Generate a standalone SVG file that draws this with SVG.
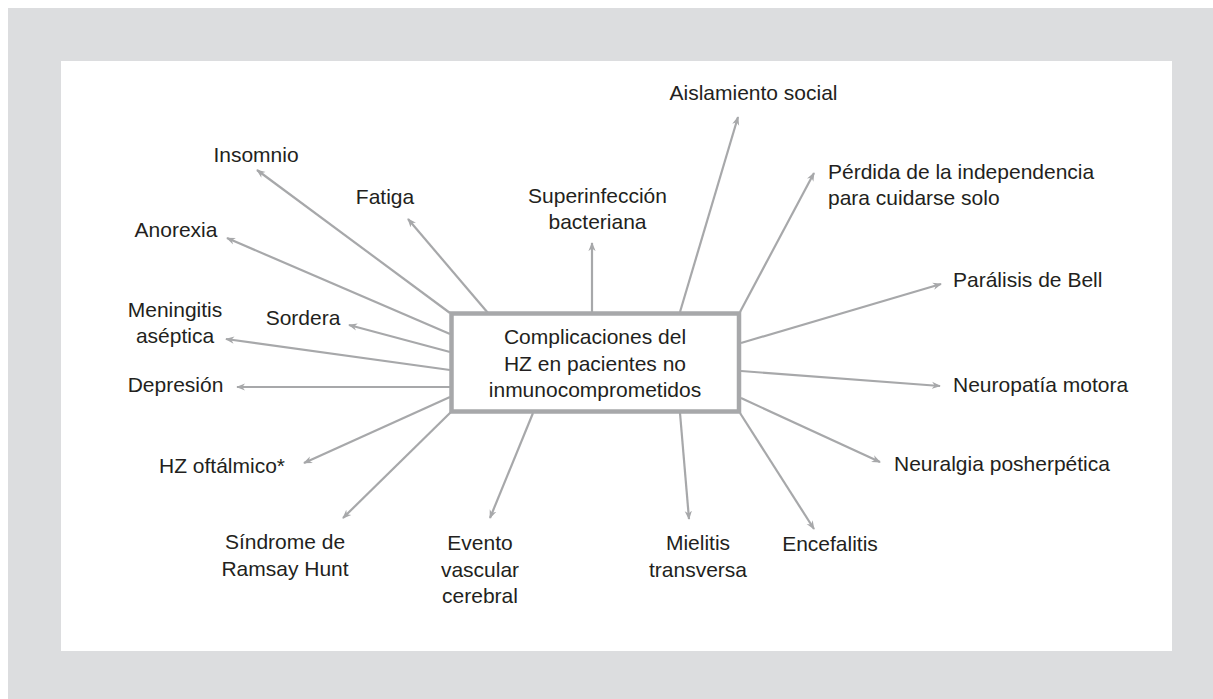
<svg xmlns="http://www.w3.org/2000/svg" width="1213" height="699" viewBox="0 0 1213 699">
<style>
.t{font-family:"Liberation Sans",Arial,Helvetica,sans-serif;font-size:21px;fill:#231f20}
.m{text-anchor:middle}
.c{stroke:#a7a8aa;stroke-width:2.2;fill:none;marker-end:url(#ah)}
</style>
<defs>
<marker id="ah" viewBox="0 0 10 10" refX="9" refY="5" markerWidth="9" markerHeight="9" markerUnits="userSpaceOnUse" orient="auto">
<path d="M0,1 L10,5 L0,9 L3,5 z" fill="#a7a8aa"/>
</marker>
</defs>
<rect x="0" y="0" width="1213" height="699" fill="#ffffff"/>
<rect x="8" y="8" width="1205" height="691" fill="#dcdddf"/>
<rect x="61" y="61" width="1111" height="590" fill="#ffffff"/>
<g id="connectors">
<line class="c" x1="450" y1="313" x2="257" y2="170"/>
<line class="c" x1="488" y1="313" x2="408" y2="219"/>
<line class="c" x1="450" y1="334" x2="227" y2="238"/>
<line class="c" x1="450" y1="352" x2="349" y2="325"/>
<line class="c" x1="450" y1="370" x2="226" y2="339"/>
<line class="c" x1="450" y1="387" x2="237" y2="387"/>
<line class="c" x1="450" y1="397" x2="304" y2="463"/>
<line class="c" x1="451" y1="412" x2="343" y2="518"/>
<line class="c" x1="533" y1="413" x2="490" y2="518"/>
<line class="c" x1="680" y1="413" x2="689" y2="519"/>
<line class="c" x1="740" y1="413" x2="814" y2="529"/>
<line class="c" x1="741" y1="398" x2="880" y2="462"/>
<line class="c" x1="741" y1="371" x2="940" y2="386"/>
<line class="c" x1="741" y1="343" x2="941" y2="284"/>
<line class="c" x1="740" y1="312" x2="814" y2="173"/>
<line class="c" x1="680" y1="312" x2="738" y2="117"/>
<line class="c" x1="592" y1="312" x2="592" y2="243"/>
</g>
<g id="center">
<rect x="451.5" y="313.5" width="287.5" height="98" fill="#ffffff" stroke="#a7a8aa" stroke-width="4.5"/>
<text class="t m" x="595" y="344">Complicaciones del</text>
<text class="t m" x="595" y="370.5">HZ en pacientes no</text>
<text class="t m" x="595" y="397">inmunocomprometidos</text>
</g>
<g id="insomnio"><text class="t m" x="256" y="162">Insomnio</text></g>
<g id="fatiga"><text class="t m" x="385" y="204">Fatiga</text></g>
<g id="anorexia"><text class="t m" x="176" y="237">Anorexia</text></g>
<g id="meningitis"><text class="t m" x="175" y="317">Meningitis</text><text class="t m" x="175" y="343">aséptica</text></g>
<g id="sordera"><text class="t m" x="303" y="325">Sordera</text></g>
<g id="depresion"><text class="t m" x="175.5" y="392">Depresión</text></g>
<g id="hz-oftalmico"><text class="t m" x="222" y="473">HZ oftálmico*</text></g>
<g id="ramsay-hunt"><text class="t m" x="285" y="549">Síndrome de</text><text class="t m" x="285" y="576">Ramsay Hunt</text></g>
<g id="evento-vascular"><text class="t m" x="480" y="550">Evento</text><text class="t m" x="480" y="577">vascular</text><text class="t m" x="480" y="603">cerebral</text></g>
<g id="mielitis"><text class="t m" x="698" y="550">Mielitis</text><text class="t m" x="698" y="577">transversa</text></g>
<g id="encefalitis"><text class="t m" x="830" y="551">Encefalitis</text></g>
<g id="neuralgia"><text class="t" x="894" y="471">Neuralgia posherpética</text></g>
<g id="neuropatia"><text class="t" x="953" y="392">Neuropatía motora</text></g>
<g id="bell"><text class="t" x="953" y="287">Parálisis de Bell</text></g>
<g id="perdida"><text class="t" x="828" y="179">Pérdida de la independencia</text><text class="t" x="828" y="205">para cuidarse solo</text></g>
<g id="aislamiento"><text class="t m" x="753.5" y="100">Aislamiento social</text></g>
<g id="superinfeccion"><text class="t m" x="597.5" y="203">Superinfección</text><text class="t m" x="597.5" y="229">bacteriana</text></g>
</svg>
